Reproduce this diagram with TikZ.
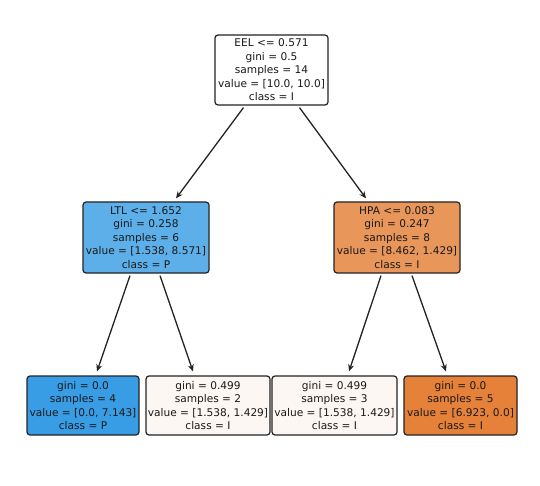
\documentclass[tikz,border=0pt]{standalone}
\usepackage{fontspec}
\setmainfont{DejaVu Sans}
\usetikzlibrary{arrows.meta}
\definecolor{txt}{RGB}{25,25,25}
\definecolor{edge}{RGB}{35,35,35}
\definecolor{cP}{RGB}{57,157,229}
\definecolor{cPl}{RGB}{93,175,234}
\definecolor{cI}{RGB}{229,129,57}
\definecolor{cIl}{RGB}{233,150,90}
\definecolor{cW}{RGB}{252,247,242}
\tikzset{
  tnode/.style={draw=edge, line width=1.2pt, rounded corners=3pt, inner sep=0pt,
    align=center, text=txt, font=\fontsize{10.6}{13.5}\selectfont},
  arr/.style={draw=edge, line width=1.3pt, -{Stealth[length=7pt,width=6pt]}}
}
\begin{document}
\begin{tikzpicture}[x=1pt,y=-1pt]
\useasboundingbox (0,0) rectangle (540,486);
\node[tnode, fill=white, minimum width=113pt, minimum height=70pt] (root) at (271.5,70)
  {EEL <= 0.571\\gini = 0.5\\samples = 14\\value = [10.0, 10.0]\\class = I};
\node[tnode, fill=cPl, minimum width=126pt, minimum height=71pt] (ltl) at (146,237.5)
  {LTL <= 1.652\\gini = 0.258\\samples = 6\\value = [1.538, 8.571]\\class = P};
\node[tnode, fill=cIl, minimum width=126pt, minimum height=71pt] (hpa) at (397,237.5)
  {HPA <= 0.083\\gini = 0.247\\samples = 8\\value = [8.462, 1.429]\\class = I};
\node[tnode, fill=cP, minimum width=112pt, minimum height=59pt] (l1) at (83,405.5)
  {gini = 0.0\\samples = 4\\value = [0.0, 7.143]\\class = P};
\node[tnode, fill=cW, minimum width=124pt, minimum height=59pt] (l2) at (208,405.5)
  {gini = 0.499\\samples = 2\\value = [1.538, 1.429]\\class = I};
\node[tnode, fill=cW, minimum width=125pt, minimum height=59pt] (l3) at (334.5,405.5)
  {gini = 0.499\\samples = 3\\value = [1.538, 1.429]\\class = I};
\node[tnode, fill=cI, minimum width=113pt, minimum height=59pt] (l4) at (460.5,405.5)
  {gini = 0.0\\samples = 5\\value = [6.923, 0.0]\\class = I};
\draw[arr] ([xshift=-28pt,yshift=-2pt]root.south) -- ([xshift=30pt,yshift=3pt]ltl.north);
\draw[arr] ([xshift=28pt,yshift=-2pt]root.south) -- ([xshift=-31pt,yshift=3pt]hpa.north);
\draw[arr] ([xshift=-16pt,yshift=-2pt]ltl.south) -- ([xshift=14pt,yshift=4pt]l1.north);
\draw[arr] ([xshift=14pt,yshift=-2pt]ltl.south) -- ([xshift=-15pt,yshift=4pt]l2.north);
\draw[arr] ([xshift=-16pt,yshift=-2pt]hpa.south) -- ([xshift=14.5pt,yshift=4pt]l3.north);
\draw[arr] ([xshift=15pt,yshift=-2pt]hpa.south) -- ([xshift=-14.5pt,yshift=4pt]l4.north);
\end{tikzpicture}
\end{document}
